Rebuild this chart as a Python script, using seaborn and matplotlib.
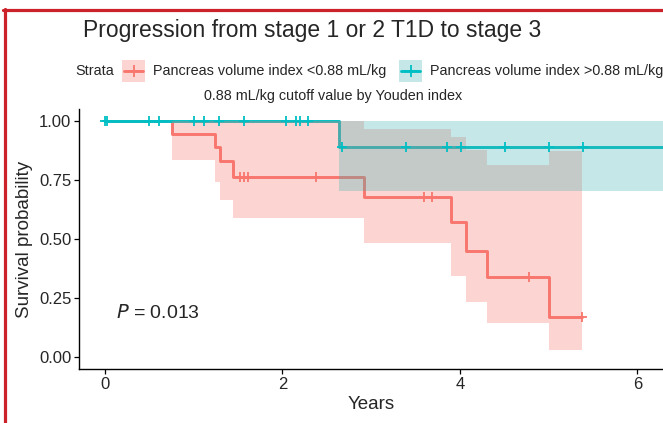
import matplotlib
matplotlib.use('Agg')
import matplotlib.pyplot as plt
import seaborn as sns
import numpy as np
import pandas as pd
from matplotlib.patches import Rectangle
from matplotlib.lines import Line2D

# survival steps
low_label = 'Pancreas volume index <0.88 mL/kg'
high_label = 'Pancreas volume index >0.88 mL/kg'

low_time = [0, 0.755, 1.24, 1.30, 1.44, 2.92, 3.90, 4.07, 4.31, 5.01, 5.38]
low_surv = [1.0, 0.944, 0.888, 0.832, 0.764, 0.679, 0.570, 0.451, 0.338, 0.169, 0.169]
low_lower = [1.0, 0.835, 0.743, 0.667, 0.587, 0.481, 0.342, 0.232, 0.143, 0.03, 0.03]
low_upper = [1.0, 1.0, 1.0, 1.0, 1.0, 0.966, 0.932, 0.878, 0.814, 0.873, 0.873]
low_cens_time = [1.52, 1.57, 1.61, 2.38, 3.60, 3.69, 4.78, 5.38]
low_cens_surv = [0.764, 0.764, 0.764, 0.764, 0.679, 0.679, 0.338, 0.169]

high_time = [0, 2.64, 6.6]
high_surv = [1.0, 0.889, 0.889]
high_lower = [1.0, 0.705, 0.705]
high_upper = [1.0, 1.0, 1.0]
high_cens_time = [0.0, 0.025, 0.50, 0.61, 1.00, 1.12, 1.29, 1.57, 2.04, 2.15, 2.20, 2.29,
                  2.67, 3.39, 3.85, 4.01, 4.51, 5.01, 5.39]
high_cens_surv = [1.0] * 12 + [0.889] * 7

red = '#F8766D'
teal = '#00BFC4'
teal_band = '#41B2B2'

sns.set_theme(style='ticks')
plt.rcParams['font.family'] = ['Liberation Sans', 'DejaVu Sans']

W, H = 663, 423
fig = plt.figure(figsize=(W / 100, H / 100), dpi=100)
ax = fig.add_axes([79 / W, 1 - 369 / H, (W - 79) / W, (369 - 109) / H])

curves = pd.concat([
    pd.DataFrame({'time': low_time, 'surv': low_surv, 'group': low_label}),
    pd.DataFrame({'time': high_time, 'surv': high_surv, 'group': high_label}),
])
sns.lineplot(data=curves, x='time', y='surv', hue='group', drawstyle='steps-post',
             palette={low_label: red, high_label: teal}, linewidth=2.1,
             legend=False, errorbar=None, ax=ax, zorder=2)

# confidence bands on top of the lines
ax.fill_between(low_time, low_lower, low_upper, step='post', color=red, alpha=0.3,
                linewidth=0, zorder=3)
ax.fill_between(high_time, high_lower, high_upper, step='post', color=teal_band, alpha=0.3,
                linewidth=0, zorder=3)

sns.scatterplot(x=high_cens_time, y=high_cens_surv, marker='+', s=60, linewidth=1.3,
                color=teal, ax=ax, zorder=5)
sns.scatterplot(x=low_cens_time, y=low_cens_surv, marker='+', s=60, linewidth=1.3,
                color=red, ax=ax, zorder=5)

ax.set_xlim(-0.293, 6.29)
ax.set_ylim(-0.05, 1.05)
ax.set_xticks([0, 2, 4, 6])
ax.set_yticks([0, 0.25, 0.5, 0.75, 1.0])
ax.set_yticklabels(['0.00', '0.25', '0.50', '0.75', '1.00'])
ax.tick_params(labelsize=12, length=3.5, width=0.9, color='black', pad=2)
for s in ['left', 'bottom']:
    ax.spines[s].set_color('black')
    ax.spines[s].set_linewidth(1.0)
sns.despine(ax=ax)
ax.set_xlabel('Years', fontsize=13.5, labelpad=3)
ax.set_ylabel('Survival probability', fontsize=13.5, labelpad=4)

ax.text(0.12, 0.185, '$P$ = 0.013', fontsize=14, ha='left', va='center')


def px(x, y):
    return x / W, 1 - y / H


# title and subtitle
fig.text(*px(312, 30), 'Progression from stage 1 or 2 T1D to stage 3', fontsize=16.5,
         ha='center', va='center')
fig.text(*px(333, 96), '0.88 mL/kg cutoff value by Youden index', fontsize=10.4,
         ha='center', va='center')

# legend row
fig.text(*px(75, 71), 'Strata', fontsize=10.4, ha='left', va='center')
for x0, col, band, lab, tx in [(122, red, red, low_label, 153),
                               (399, teal, teal_band, high_label, 430)]:
    fig.add_artist(Rectangle(px(x0, 82), 23 / W, 22 / H, transform=fig.transFigure,
                             facecolor=band, alpha=0.3, linewidth=0))
    fig.add_artist(Line2D([px(x0 + 2, 0)[0], px(x0 + 21, 0)[0]], [px(0, 71)[1]] * 2,
                          transform=fig.transFigure, color=col, lw=2.1))
    fig.add_artist(Line2D([px(x0 + 11.5, 0)[0]], [px(0, 71)[1]], marker='+', ms=8, mew=1.3,
                          transform=fig.transFigure, color=col))
    fig.text(*px(tx, 71), lab, fontsize=10.4, ha='left', va='center')

# red frame on top and left edges
fig.add_artist(Line2D([px(3, 0)[0], 1], [px(0, 10.5)[1]] * 2, transform=fig.transFigure,
                      color='#CC2229', lw=2.3))
fig.add_artist(Line2D([px(4.5, 0)[0]] * 2, [px(0, 9.5)[1], 0], transform=fig.transFigure,
                      color='#CC2229', lw=2.3))

fig.savefig('out.png', dpi=100)
